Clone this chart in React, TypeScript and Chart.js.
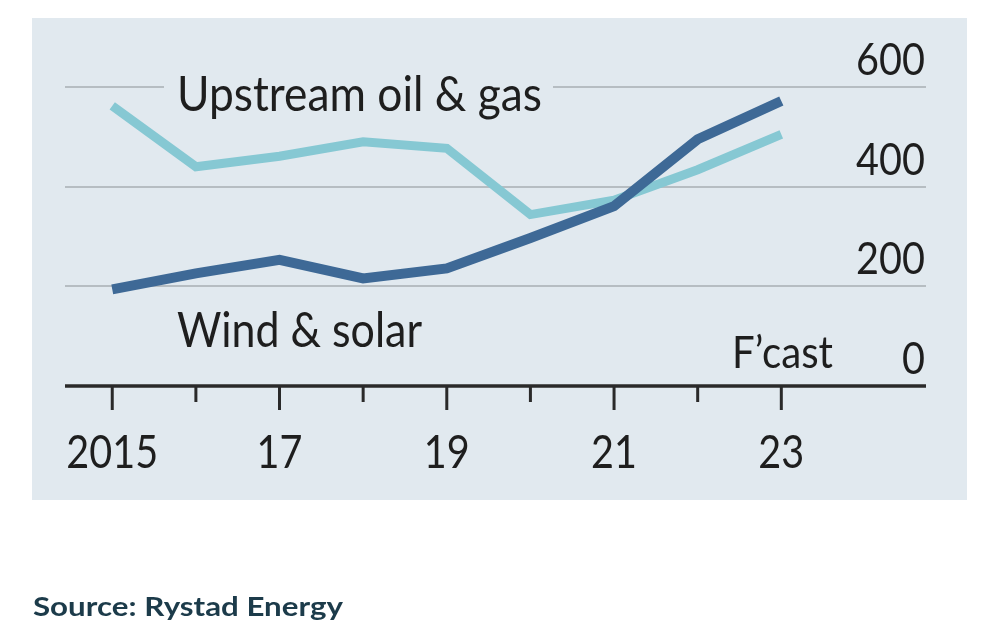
import React, { useEffect, useRef } from "react";
import { Chart, registerables } from "chart.js";

Chart.register(...registerables);

// ---- Data ----
const years = [2015, 2016, 2017, 2018, 2019, 2020, 2021, 2022, 2023];
const upstreamOilGas = [562, 440, 461, 490, 477, 344, 373, 434, 505];
const windSolar = [194, 226, 253, 216, 236, 297, 361, 495, 572];
const xTickLabels = ["2015", "", "17", "", "19", "", "21", "", "23"];
const yTickValues = [0, 200, 400, 600];
const seriesLabels = ["Upstream oil & gas", "Wind & solar"];
const forecastLabel = "F\u2019cast";
const sourceText = "Source: Rystad Energy";

// ---- Styles / layout ----
const W = 1000;
const H = 634;
const PANEL = { x: 32, y: 18, w: 935, h: 482 };
const PANEL_BG = "#e1e9ef";
const LIGHT = "#86c8d3";
const DARK = "#3e6996";
const GRID = "#b6bdc2";
const AXIS = "#2a2a2a";
const TEXT = "#1e1e1e";
const FONT = "Lato, 'Open Sans', sans-serif";

function drawText(
  ctx: CanvasRenderingContext2D,
  text: string,
  x: number,
  y: number,
  font: string,
  color: string,
  align: "left" | "right" | "center",
  sx: number
) {
  ctx.save();
  ctx.font = font;
  ctx.fillStyle = color;
  ctx.textAlign = "left";
  ctx.textBaseline = "alphabetic";
  const w = ctx.measureText(text).width * sx;
  let left = x;
  if (align === "right") left = x - w;
  else if (align === "center") left = x - w / 2;
  ctx.translate(left, y);
  ctx.scale(sx, 1);
  ctx.fillText(text, 0, 0);
  ctx.restore();
}

function drawTextWidth(
  ctx: CanvasRenderingContext2D,
  text: string,
  x: number,
  y: number,
  font: string,
  color: string,
  width: number
) {
  ctx.save();
  ctx.font = font;
  const w = ctx.measureText(text).width;
  ctx.restore();
  drawText(ctx, text, x, y, font, color, "left", width / w);
}

const decorPlugin = {
  id: "decor",
  beforeDraw(chart: any) {
    const ctx = chart.ctx as CanvasRenderingContext2D;
    ctx.save();
    ctx.fillStyle = "#ffffff";
    ctx.fillRect(0, 0, W, H);
    ctx.fillStyle = PANEL_BG;
    ctx.fillRect(PANEL.x, PANEL.y, PANEL.w, PANEL.h);
    ctx.restore();
  },
  beforeDatasetsDraw(chart: any) {
    const ctx = chart.ctx as CanvasRenderingContext2D;
    const y = chart.scales.y;
    const gy = y.getPixelForValue(600);
    ctx.save();
    ctx.fillStyle = PANEL_BG;
    ctx.fillRect(164, gy - 4, 389, 8);
    ctx.restore();
  },
  afterDraw(chart: any) {
    const ctx = chart.ctx as CanvasRenderingContext2D;
    const xs = chart.scales.x;
    const ys = chart.scales.y;
    const area = chart.chartArea;
    const y0 = ys.getPixelForValue(0);

    // x axis line
    ctx.save();
    ctx.strokeStyle = AXIS;
    ctx.lineWidth = 3.5;
    ctx.beginPath();
    ctx.moveTo(area.left, y0);
    ctx.lineTo(area.right, y0);
    ctx.stroke();

    // ticks
    ctx.lineWidth = 3;
    years.forEach((yr, i) => {
      const px = xs.getPixelForValue(yr);
      const major = xTickLabels[i] !== "";
      ctx.beginPath();
      ctx.moveTo(px, y0);
      ctx.lineTo(px, y0 + (major ? 24 : 16));
      ctx.stroke();
    });
    ctx.restore();

    // x labels
    years.forEach((yr, i) => {
      const lbl = xTickLabels[i];
      if (!lbl) return;
      const px = xs.getPixelForValue(yr);
      drawText(ctx, lbl, px, 468, `46px ${FONT}`, TEXT, "center", 0.86);
    });

    // y labels
    yTickValues.forEach((v) => {
      const py = ys.getPixelForValue(v);
      drawText(ctx, String(v), 925, py - 12, `44px ${FONT}`, TEXT, "right", 0.9);
    });

    // series labels
    drawTextWidth(ctx, seriesLabels[0], 177, 111, `49px ${FONT}`, TEXT, 365);
    drawTextWidth(ctx, seriesLabels[1], 177, 347, `49px ${FONT}`, TEXT, 245);
    drawTextWidth(ctx, forecastLabel, 732, 368, `44px ${FONT}`, TEXT, 101);

    // source
    drawTextWidth(ctx, sourceText, 33, 616, `bold 27px ${FONT}`, "#1c3b4a", 310);
  },
};

export default function App() {
  const ref = useRef<HTMLCanvasElement | null>(null);

  useEffect(() => {
    if (!ref.current) return;
    const chart = new Chart(ref.current, {
      type: "line",
      data: {
        datasets: [
          {
            label: seriesLabels[1],
            data: years.map((yr, i) => ({ x: yr, y: windSolar[i] })),
            borderColor: DARK,
            borderWidth: 10,
            pointRadius: 0,
            tension: 0,
            borderCapStyle: "butt",
            borderJoinStyle: "miter",
            order: 0,
          },
          {
            label: seriesLabels[0],
            data: years.map((yr, i) => ({ x: yr, y: upstreamOilGas[i] })),
            borderColor: LIGHT,
            borderWidth: 9,
            pointRadius: 0,
            tension: 0,
            borderCapStyle: "butt",
            borderJoinStyle: "miter",
            order: 1,
          },
        ],
      },
      options: {
        responsive: false,
        animation: false,
        devicePixelRatio: 1,
        clip: false as any,
        layout: { padding: { left: 65, right: 74, top: 87, bottom: 248 } },
        plugins: { legend: { display: false }, tooltip: { enabled: false } },
        scales: {
          x: {
            type: "linear",
            min: 2014.435,
            max: 2024.73,
            display: false,
          },
          y: {
            type: "linear",
            min: 0,
            max: 600,
            afterBuildTicks: (s: any) => {
              s.ticks = yTickValues.map((v) => ({ value: v }));
            },
            ticks: { display: false },
            border: { display: false },
            grid: {
              drawTicks: false,
              color: (c: any) => (c.tick && c.tick.value === 0 ? "rgba(0,0,0,0)" : GRID),
              lineWidth: 2,
            },
          },
        },
      },
      plugins: [decorPlugin],
    });
    return () => chart.destroy();
  }, []);

  return (
    <div style={{ position: "absolute", left: 0, top: 0, width: W, height: H, background: "#fff" }}>
      <canvas ref={ref} width={W} height={H} style={{ width: W, height: H, display: "block" }} />
    </div>
  );
}
